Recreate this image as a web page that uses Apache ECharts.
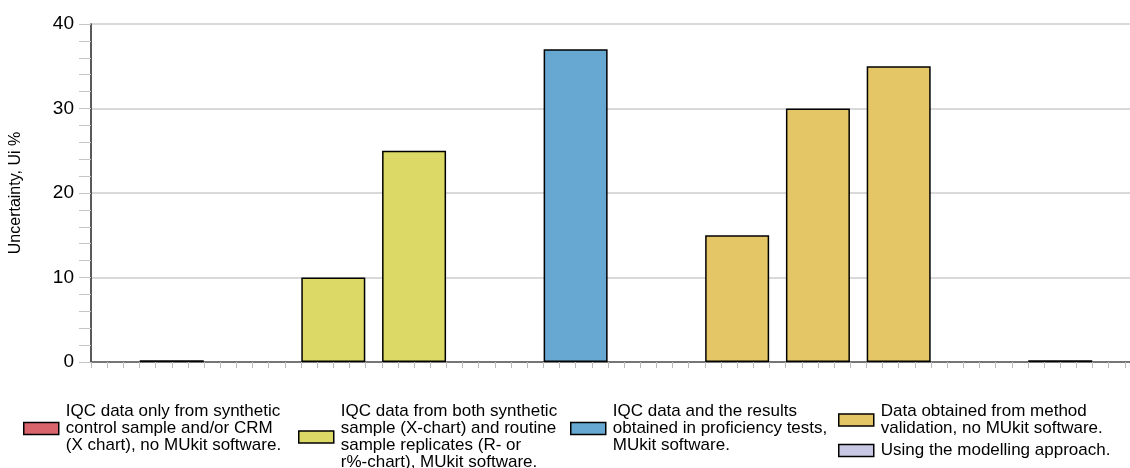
<!DOCTYPE html>
<html>
<head>
<meta charset="utf-8">
<script src="https://cdn.jsdelivr.net/npm/echarts@6/dist/echarts.min.js"></script>
<style>html,body{margin:0;padding:0;background:#fff}#c{width:1130px;height:468px}</style>
</head>
<body>
<div id="c"></div>
<script>
// Series names (legend labels, with line breaks as in the reference)
var seriesNames = [
  "IQC data only from synthetic\ncontrol sample and/or CRM\n(X chart), no MUkit software.",
  "IQC data from both synthetic\nsample (X-chart) and routine\nsample replicates (R- or\nr%-chart), MUkit software.",
  "IQC data and the results\nobtained in proficiency tests,\nMUkit software.",
  "Data obtained from method\nvalidation, no MUkit software.",
  "Using the modelling approach."
];
var seriesColors = ["#d9646b", "#dcd967", "#66a8d2", "#e4c666", "#c8c8e4"];
// Position of each bar along the x scale and its value (Uncertainty, Ui %)
var s1Pos = [5],          s1Val = [0.2];
var s2Pos = [15, 20],     s2Val = [10, 25];
var s3Pos = [30],         s3Val = [37];
var s4Pos = [40, 45, 50], s4Val = [15, 30, 35];
var s5Pos = [60],         s5Val = [0.2];
var yTicks = [0, 10, 20, 30, 40];

var posList = [s1Pos, s2Pos, s3Pos, s4Pos, s5Pos];
var valList = [s1Val, s2Val, s3Val, s4Val, s5Val];

var font = "Liberation Sans, Arial, sans-serif";
var series = seriesNames.map(function (n, i) {
  return {
    name: n,
    type: 'bar',
    barWidth: 64,
    barGap: '-100%',
    data: posList[i].map(function (p, k) { return [p, valList[i][k]]; }),
    itemStyle: { color: seriesColors[i], borderColor: '#000', borderWidth: 1.5 },
    emphasis: { disabled: true }
  };
});

function legendAt(names, left, top) {
  return {
    data: names,
    left: left, top: top,
    orient: 'vertical',
    itemWidth: 35, itemHeight: 12, itemGap: 5,
    icon: 'rect',
    itemStyle: { borderColor: '#000', borderWidth: 1.5 },
    textStyle: { fontFamily: font, fontSize: 17, lineHeight: 17, color: '#000', padding: [0, 0, 0, 2] },
    selectedMode: false
  };
}

var chart = echarts.init(document.getElementById('c'), null, { renderer: 'canvas' });
chart.setOption({
  animation: false,
  backgroundColor: '#fff',
  grid: { left: 91, right: -11, top: 24, bottom: 106, containLabel: false, outerBoundsMode: 'none' },
  legend: [
    legendAt([seriesNames[0]], 18, 398),
    legendAt([seriesNames[1]], 293, 398),
    legendAt([seriesNames[2]], 565, 398),
    legendAt([seriesNames[3], seriesNames[4]], 833, 398)
  ],
  xAxis: {
    type: 'value', min: 0, max: 65, interval: 1,
    axisLine: { show: true, lineStyle: { color: '#555', width: 1.5 } },
    axisTick: { show: true, length: 6, lineStyle: { color: '#bbb' } },
    axisLabel: { show: false },
    splitLine: { show: false }
  },
  yAxis: {
    type: 'value', min: yTicks[0], max: yTicks[yTicks.length - 1], interval: 10,
    name: 'Uncertainty, Ui %', nameLocation: 'middle', nameRotate: 90, nameGap: 67,
    nameTextStyle: { fontFamily: font, fontSize: 16, color: '#000' },
    axisLine: { show: true, lineStyle: { color: '#222', width: 1.5 } },
    axisTick: { show: true, length: 12, lineStyle: { color: '#c4c4c4' } },
    minorTick: { show: true, splitNumber: 5, length: 12, lineStyle: { color: '#c4c4c4' } },
    axisLabel: { fontFamily: font, fontSize: 19, color: '#000', margin: 17 },
    splitLine: { show: true, lineStyle: { color: '#ccc', width: 1.5 } }
  },
  series: series
});
</script>
</body>
</html>
